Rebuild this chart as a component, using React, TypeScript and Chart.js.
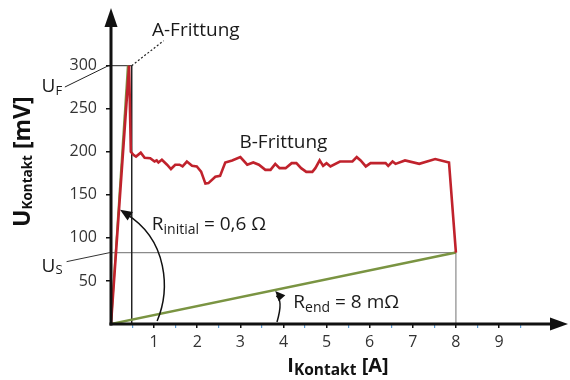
import React, { useEffect, useRef } from "react";
import { Chart, registerables } from "chart.js";

Chart.register(...registerables);

// ---- data ----
const redX = [0, 0.42, 0.46, 0.52, 0.58, 0.69, 0.78, 0.91, 1.01, 1.06, 1.10, 1.18, 1.30, 1.39, 1.49, 1.59, 1.66, 1.76, 1.88, 1.99, 2.09, 2.19, 2.26, 2.42, 2.53, 2.65, 2.81, 3.00, 3.16, 3.30, 3.43, 3.58, 3.70, 3.81, 3.91, 4.05, 4.19, 4.30, 4.41, 4.53, 4.67, 4.74, 4.84, 4.92, 5.00, 5.09, 5.31, 5.48, 5.60, 5.70, 5.79, 5.91, 6.02, 6.37, 6.43, 6.53, 6.60, 6.82, 7.15, 7.52, 7.84, 8.00];
const redY = [0, 300, 200, 196.5, 194.5, 199, 193, 192.6, 188.7, 190, 187.6, 190.7, 185, 180, 185, 185, 183, 188.7, 183.7, 183, 177, 163, 163.6, 171, 172, 187.6, 190, 193.8, 185, 187.6, 185, 179, 179, 186, 181, 181, 186.8, 186.8, 181, 176.7, 176.7, 181, 190, 183.7, 186.8, 183, 188.7, 188.7, 188.7, 193.8, 190, 183, 186.8, 186.8, 183.7, 188.7, 186, 190, 186, 191.5, 187.6, 83];
const greenInitX = [0, 0.39];
const greenInitY = [0, 300];
const greenEndX = [0, 8];
const greenEndY = [0, 83];
const uF = 300;
const uS = 83;
const aFrittX = 0.48;
const endX = 8;
const xTickLabels = [1, 2, 3, 4, 5, 6, 7, 8, 9];
const yTickLabels = [50, 100, 150, 200, 250, 300];
const xMax = 10.6;
const yMax = 367;

const FONT = "'Open Sans', 'DejaVu Sans', sans-serif";
const RED = "#C0222C";
const GREEN = "#7A9442";

const pts = (xs: number[], ys: number[]) => xs.map((x, i) => ({ x, y: ys[i] }));

type Part = { t: string; f: string; dy?: number };
function rich(ctx: CanvasRenderingContext2D, x: number, y: number, parts: Part[], angle = 0) {
  ctx.save();
  ctx.translate(x, y);
  ctx.rotate(angle);
  ctx.textBaseline = "alphabetic";
  ctx.textAlign = "left";
  let cx = 0;
  for (const p of parts) {
    ctx.font = p.f;
    ctx.fillText(p.t, cx, p.dy || 0);
    cx += ctx.measureText(p.t).width;
  }
  ctx.restore();
}

function arrowHead(ctx: CanvasRenderingContext2D, tx: number, ty: number, fx: number, fy: number, len = 11, hw = 5) {
  const a = Math.atan2(ty - fy, tx - fx);
  ctx.beginPath();
  ctx.moveTo(tx, ty);
  ctx.lineTo(tx - len * Math.cos(a) + hw * Math.sin(a), ty - len * Math.sin(a) - hw * Math.cos(a));
  ctx.lineTo(tx - len * Math.cos(a) - hw * Math.sin(a), ty - len * Math.sin(a) + hw * Math.cos(a));
  ctx.closePath();
  ctx.fill();
}

const overlay = {
  id: "overlay",
  afterDraw(chart: any) {
    const ctx: CanvasRenderingContext2D = chart.ctx;
    const xs = chart.scales.x;
    const ys = chart.scales.y;
    const X = (v: number) => xs.getPixelForValue(v);
    const Y = (v: number) => ys.getPixelForValue(v);
    const ca = chart.chartArea;
    const ox = X(0);
    const oy = Y(0);
    ctx.save();
    // axes with arrows
    ctx.strokeStyle = "#111";
    ctx.fillStyle = "#111";
    ctx.lineWidth = 3;
    ctx.beginPath();
    ctx.moveTo(ox, oy + 1.5);
    ctx.lineTo(ox, ca.top + 14);
    ctx.stroke();
    ctx.beginPath();
    ctx.moveTo(ox - 1.5, oy);
    ctx.lineTo(ca.right - 14, oy);
    ctx.stroke();
    ctx.beginPath();
    ctx.moveTo(ox, ca.top);
    ctx.lineTo(ox - 6.5, ca.top + 19);
    ctx.lineTo(ox + 6.5, ca.top + 19);
    ctx.closePath();
    ctx.fill();
    ctx.beginPath();
    ctx.moveTo(ca.right, oy);
    ctx.lineTo(ca.right - 18, oy - 6.5);
    ctx.lineTo(ca.right - 18, oy + 6.5);
    ctx.closePath();
    ctx.fill();

    // leader lines U_F, U_S
    ctx.lineWidth = 1;
    ctx.strokeStyle = "#222";
    ctx.beginPath();
    ctx.moveTo(X(-1.07), Y(275.2));
    ctx.lineTo(X(-0.06), Y(uF));
    ctx.stroke();
    ctx.strokeStyle = "#333";
    ctx.beginPath();
    ctx.moveTo(X(-1.03), Y(72.4));
    ctx.lineTo(X(-0.02), Y(uS));
    ctx.stroke();

    // R_initial arc
    ctx.strokeStyle = "#111";
    ctx.fillStyle = "#111";
    ctx.lineWidth = 1.5;
    const p0 = [X(1.07), Y(3.5)];
    const p1 = [X(1.37), Y(39.5)];
    const p2 = [X(1.33), Y(97.7)];
    const p3 = [X(0.21), Y(132.6)];
    ctx.beginPath();
    ctx.moveTo(p0[0], p0[1]);
    ctx.bezierCurveTo(p1[0], p1[1], p2[0], p2[1], p3[0] + 6, p3[1] + 4);
    ctx.stroke();
    arrowHead(ctx, p3[0], p3[1], p2[0], p2[1], 12, 5);

    // R_end arc
    const q0 = [X(3.85), Y(2.3)];
    const q1 = [X(4.0), Y(27.9)];
    const q2 = [X(3.81), Y(38.4)];
    ctx.beginPath();
    ctx.moveTo(q0[0], q0[1]);
    ctx.quadraticCurveTo(q1[0], q1[1], q2[0] + 1, q2[1] + 5);
    ctx.stroke();
    arrowHead(ctx, q2[0], q2[1], q1[0], q1[1], 10, 4.5);

    // texts
    ctx.fillStyle = "#1a1a1a";
    const f19 = `19px ${FONT}`;
    const f14 = `14px ${FONT}`;
    const f13 = `13px ${FONT}`;
    rich(ctx, X(0.95), Y(335), [{ t: "A-Frittung", f: f19 }]);
    rich(ctx, X(2.98), Y(204.6), [{ t: "B-Frittung", f: f19 }]);
    rich(ctx, X(0.946), Y(109.3), [
      { t: "R", f: f19 },
      { t: "initial", f: f14, dy: 4 },
      { t: " = 0,6 Ω", f: f19 },
    ]);
    rich(ctx, X(4.23), Y(18.6), [
      { t: "R", f: f19 },
      { t: "end", f: f14, dy: 4 },
      { t: " = 8 mΩ", f: f19 },
    ]);
    rich(ctx, X(-1.61), Y(270), [
      { t: "U", f: f19 },
      { t: "F", f: f13, dy: 3.5 },
    ]);
    rich(ctx, X(-1.61), Y(60.8), [
      { t: "U", f: f19 },
      { t: "S", f: f13, dy: 2.5 },
    ]);

    // axis titles
    ctx.fillStyle = "#111";
    rich(ctx, X(4.09), Y(-55.8), [
      { t: "I", f: `bold 20px ${FONT}` },
      { t: "Kontakt", f: `bold 15.5px ${FONT}`, dy: 3 },
      { t: " [A]", f: `bold 20px ${FONT}` },
    ]);
    rich(
      ctx,
      X(-1.88),
      Y(112.8),
      [
        { t: "U", f: `bold 23px ${FONT}` },
        { t: "Kontakt", f: `bold 13.5px ${FONT}`, dy: 2 },
        { t: " [mV]", f: `bold 23px ${FONT}` },
      ],
      -Math.PI / 2
    );
    ctx.restore();
  },
};

export default function App() {
  const ref = useRef<HTMLCanvasElement | null>(null);
  useEffect(() => {
    if (!ref.current) return;
    const line = (data: any[], color: string, width: number, order: number, extra: any = {}) => ({
      data,
      borderColor: color,
      backgroundColor: color,
      borderWidth: width,
      showLine: true,
      pointRadius: 0,
      fill: false,
      tension: 0,
      order,
      ...extra,
    });
    const chart = new Chart(ref.current, {
      type: "scatter",
      data: {
        datasets: [
          line(pts(redX, redY), RED, 2.6, 0),
          line(pts(greenInitX, greenInitY), GREEN, 2, 1),
          line(pts(greenEndX, greenEndY), GREEN, 2.4, 1),
          line([{ x: 0, y: uF }, { x: aFrittX, y: uF }, { x: aFrittX, y: 0 }], "#222", 1, 3),
          line([{ x: 0, y: uS }, { x: endX, y: uS }, { x: endX, y: 0 }], "#8a8a8a", 1.2, 3),
          line([{ x: aFrittX, y: uF }, { x: 1.22, y: 329 }], "#222", 1.2, 3, { borderDash: [2, 2] }),
        ],
      },
      options: {
        responsive: false,
        devicePixelRatio: 1,
        animation: false,
        layout: { padding: { top: 8, right: 2, left: 0, bottom: 0 } },
        plugins: { legend: { display: false }, tooltip: { enabled: false } },
        scales: {
          x: {
            type: "linear",
            min: 0,
            max: xMax,
            afterFit: (s: any) => {
              s.height = 56;
              s.paddingLeft = 0;
              s.paddingRight = 0;
              s.paddingTop = 0;
              s.paddingBottom = 0;
            },
            border: { display: false },
            grid: {
              drawOnChartArea: false,
              drawTicks: true,
              tickLength: 4,
              color: (c: any) => {
                const v = c.tick?.value;
                if (v === undefined || v <= 0 || v > 9.5) return "transparent";
                return Number.isInteger(v) ? "#111" : "#5B9BD5";
              },
              lineWidth: (c: any) => (Number.isInteger(c.tick?.value) ? 1.5 : 1.2),
            },
            ticks: {
              stepSize: 0.5,
              includeBounds: false,
              autoSkip: false,
              maxRotation: 0,
              padding: 5,
              color: "#333",
              font: { family: FONT, size: 16 },
              callback: (v: any) => (xTickLabels.includes(Number(v)) ? String(v) : ""),
            },
          },
          y: {
            type: "linear",
            min: 0,
            max: yMax,
            afterFit: (s: any) => {
              s.width = 111;
              s.paddingLeft = 0;
              s.paddingRight = 0;
              s.paddingTop = 0;
              s.paddingBottom = 0;
            },
            border: { display: false },
            grid: {
              drawOnChartArea: false,
              drawTicks: true,
              tickLength: 5,
              color: (c: any) => (yTickLabels.includes(c.tick?.value) ? "#111" : "transparent"),
              lineWidth: 1.5,
            },
            ticks: {
              stepSize: 50,
              includeBounds: false,
              autoSkip: false,
              padding: 9,
              color: "#333",
              font: { family: FONT, size: 16 },
              callback: (v: any) => (yTickLabels.includes(Number(v)) ? String(v) : ""),
            },
          },
        },
      },
      plugins: [overlay],
    });
    return () => chart.destroy();
  }, []);
  return (
    <div style={{ position: "fixed", left: 0, top: 0, width: 570, height: 380, background: "#fff" }}>
      <canvas ref={ref} width={570} height={380} style={{ display: "block" }} />
    </div>
  );
}
